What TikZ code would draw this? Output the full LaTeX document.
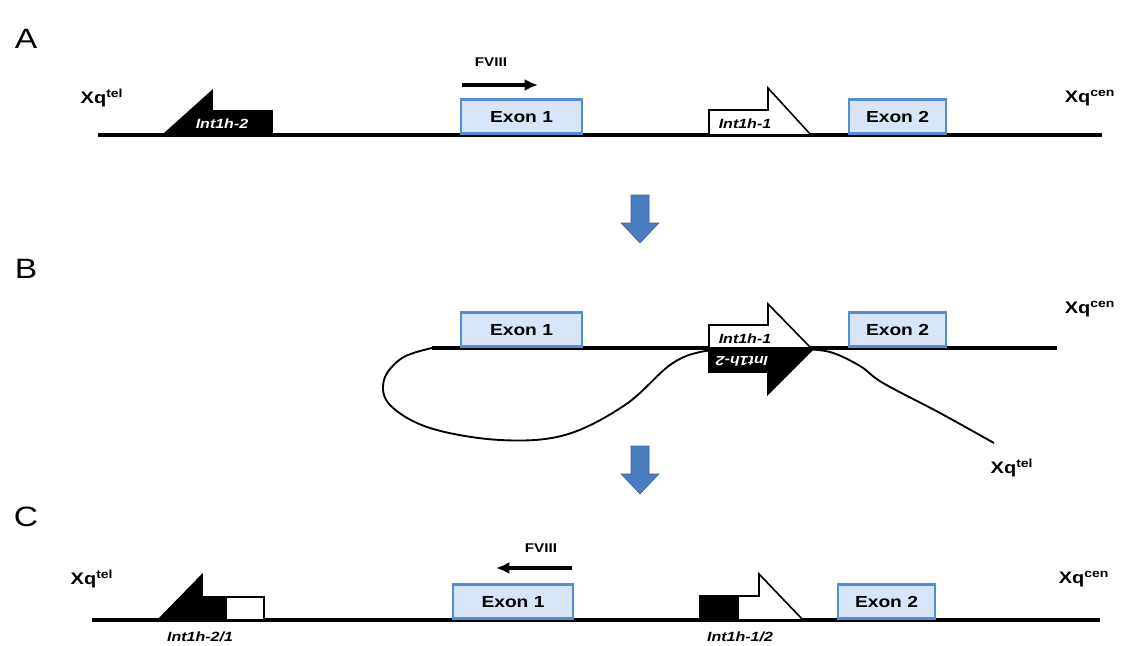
\documentclass[tikz,border=0pt]{standalone}
\usepackage{fontspec}
\setmainfont[FakeStretch=1.2]{Liberation Sans}
\usetikzlibrary{arrows.meta}
\definecolor{exfill}{RGB}{216,228,247}
\definecolor{exline}{RGB}{84,141,212}
\definecolor{bluearrow}{RGB}{74,124,192}
\tikzset{
  exon/.style={draw=exline, line width=2pt, fill=exfill, minimum width=#1, minimum height=25.5pt, inner sep=0pt, font=\bfseries\fontsize{12}{13}\selectfont, anchor=south},
  chrom/.style={line width=2.6pt},
  xq/.style={font=\bfseries\fontsize{12.5}{13}\selectfont},
  panel/.style={font=\fontsize{21}{22}\selectfont},
  intlab/.style={font=\bfseries\itshape\fontsize{10}{11}\selectfont, inner sep=0pt},
  blk/.style={fill=black, draw=black, line width=1.2pt, line join=miter},
  wht/.style={fill=white, draw=black, line width=1.2pt, line join=miter},
  fv/.style={font=\bfseries\fontsize{9.5}{10}\selectfont},
  fvarrow/.style={line width=2.8pt, -{Latex[length=10pt,width=9pt]}},
  bigarrow/.style={fill=bluearrow, draw=bluearrow!80!black, line width=0.4pt},
  loop/.style={line width=1.4pt}
}
\begin{document}
\begin{tikzpicture}[x=0.75pt,y=-0.75pt]
\useasboundingbox (0,0) rectangle (1122,646);
% panel labels
\node[panel] (pA) at (26,39) {A};
\node[panel] (pB) at (26,269) {B};
\node[panel] (pC) at (26,517) {C};

% ---------------- Panel A
\coordinate (a0) at (98,135);
\coordinate (a1) at (1102,135);
\draw[chrom] (a0) -- (a1);
\node[xq] (xtA) at (102,98) {Xq\textsuperscript{tel}};
\node[xq] (xcA) at (1090,98) {Xq\textsuperscript{cen}};
\path[blk] (163,135) -- (212,91) -- (212,111) -- (272,111) -- (272,135) -- cycle;
\node[intlab, text=white] (i2A) at (222,124) {Int1h-2};
\path[wht] (709,135) -- (709,110) -- (768,110) -- (768,88) -- (811,135) -- cycle;
\node[intlab] (i1A) at (745,124) {Int1h-1};
\node[exon=90.75pt] (e1A) at (521.5,135) {Exon 1};
\node[exon=72.75pt] (e2A) at (897.5,135) {Exon 2};
\coordinate (fa0) at (462,85);
\coordinate (fa1) at (538,85);
\draw[fvarrow] (fa0) -- (fa1);
\node[fv] (fvA) at (491,62) {FVIII};

% arrow 1
\path[bigarrow] (631,195) -- (649,195) -- (649,223) -- (659,223) -- (640,243) -- (621,223) -- (631,223) -- cycle;

% ---------------- Panel B
\draw[loop] plot[smooth, tension=0.6] coordinates {(432,348) (402,358) (384,380) (390,405) (430,428) (500,440) (565,435) (625,405) (670,365) (700,352) (730,350)};
\draw[loop] plot[smooth, tension=0.6] coordinates {(800,349) (830,352) (860,366) (883,383) (940,413) (994,443)};
\coordinate (b0) at (432,348);
\coordinate (b1) at (1057,348);
\draw[chrom] (b0) -- (b1);
\node[xq] (xcB) at (1090,309) {Xq\textsuperscript{cen}};
\node[xq] (xtB) at (1012,468) {Xq\textsuperscript{tel}};
\path[wht] (709,348) -- (709,325) -- (768,325) -- (768,304) -- (811,348) -- cycle;
\node[intlab] (i1B) at (745,339) {Int1h-1};
\path[blk] (709,351) -- (811,351) -- (768,394) -- (768,372) -- (709,372) -- cycle;
\node[intlab, text=white, rotate=180] (i2B) at (742,361) {Int1h-2};
\node[exon=90.75pt] (e1B) at (521.5,348) {Exon 1};
\node[exon=72.75pt] (e2B) at (897.5,348) {Exon 2};

% arrow 2
\path[bigarrow] (631,446) -- (649,446) -- (649,474) -- (659,474) -- (640,494) -- (621,474) -- (631,474) -- cycle;

% ---------------- Panel C
\coordinate (c0) at (92,620);
\coordinate (c1) at (1100,620);
\draw[chrom] (c0) -- (c1);
\node[xq] (xtC) at (92,579) {Xq\textsuperscript{tel}};
\node[xq] (xcC) at (1084,579) {Xq\textsuperscript{cen}};
\path[blk] (158,620) -- (202,575) -- (202,597) -- (226,597) -- (226,620) -- cycle;
\path[wht] (226,620) -- (226,597) -- (264,597) -- (264,620) -- cycle;
\node[intlab] (i21C) at (200,637) {Int1h-2/1};
\path[blk] (700,620) -- (700,596) -- (738,596) -- (738,620) -- cycle;
\path[wht] (738,620) -- (738,596) -- (759,596) -- (759,574) -- (803,620) -- cycle;
\node[intlab] (i12C) at (740,637) {Int1h-1/2};
\node[exon=90pt] (e1C) at (513,620) {Exon 1};
\node[exon=72.75pt] (e2C) at (886.5,620) {Exon 2};
\coordinate (fc0) at (572,568);
\coordinate (fc1) at (496,568);
\draw[fvarrow] (fc0) -- (fc1);
\node[fv] (fvC) at (541,548) {FVIII};
\end{tikzpicture}
\end{document}
